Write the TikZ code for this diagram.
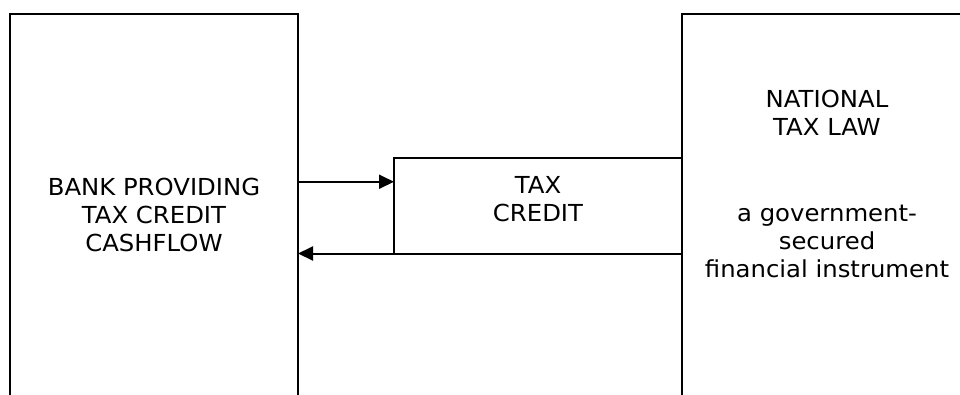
\documentclass[tikz,border=0pt]{standalone}
\usepackage{fontspec}
\setmainfont{DejaVu Sans}[FakeStretch=1.04]
\usetikzlibrary{arrows.meta}
\begin{document}
\begin{tikzpicture}[x=1pt,y=-1pt,
  outerbox/.style={draw, line width=2.2pt, inner sep=0pt, outer sep=0pt, anchor=north west},
  innerbox/.style={draw, line width=2pt, inner sep=0pt, outer sep=0pt, anchor=north west},
  arr/.style={line width=2pt, -{Triangle[length=15pt,width=14pt]}},
  txt/.style={inner sep=0pt, anchor=base, font=\fontsize{23.4}{28}\selectfont}]
\useasboundingbox (0,0) rectangle (960,394);
\clip (0,0) rectangle (960,394);
\node[outerbox, minimum width=288pt, minimum height=420pt] (bank) at (10,14) {};
\node[outerbox, minimum width=320pt, minimum height=420pt] (law) at (682,14) {};
\node[innerbox, minimum width=288pt, minimum height=95.5pt] (credit) at (394,158) {};
\coordinate (a1) at ([yshift=24pt]credit.west);
\draw[arr] (bank.east |- a1) -- (a1);
\draw[arr] (law.west |- credit.south) -- (bank.east |- credit.south);
\node[txt] (banktxt) at (154,195) {\begin{tabular}[t]{@{}c@{}}BANK PROVIDING\\TAX CREDIT\\CASHFLOW\end{tabular}};
\node[txt] (credittxt) at (538,193.3) {\begin{tabular}[t]{@{}c@{}}TAX\\CREDIT\end{tabular}};
\node[txt] (lawtitle) at (827,107.3) {\begin{tabular}[t]{@{}c@{}}NATIONAL\\TAX LAW\end{tabular}};
\node[txt] (lawtxt) at (827,221.7) {\begin{tabular}[t]{@{}c@{}}a government-\\secured\\financial instrument\end{tabular}};
\end{tikzpicture}
\end{document}
